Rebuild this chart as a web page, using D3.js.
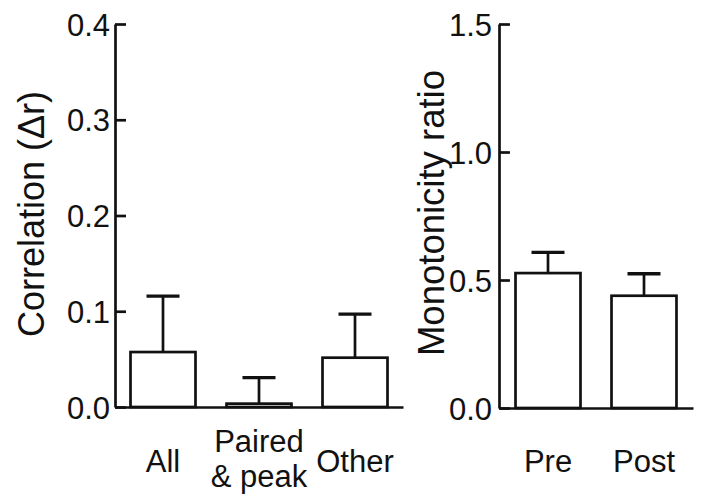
<!DOCTYPE html>
<html>
<head>
<meta charset="utf-8">
<script src="https://cdn.jsdelivr.net/npm/d3@7"></script>
<style>
  html, body { margin: 0; padding: 0; background: #fff; }
  svg { display: block; font-family: "Liberation Sans", Arial, sans-serif; }
</style>
</head>
<body>
<svg id="chart" width="703" height="495"></svg>
<script>
// Left panel data
const leftCategories = ["All", "Paired & peak", "Other"];
const leftLabelLines = [["All"], ["Paired", "& peak"], ["Other"]];
const leftMeans = [0.0574, 0.0035, 0.0515];
const leftErrors = [0.0585, 0.0271, 0.0456];
const leftTicks = [0.0, 0.1, 0.2, 0.3, 0.4];
const leftTitle = "Correlation (\u0394r)";

// Right panel data
const rightCategories = ["Pre", "Post"];
const rightMeans = [0.527, 0.4385];
const rightErrors = [0.081, 0.086];
const rightTicks = [0.0, 0.5, 1.0, 1.5];
const rightTitle = "Monotonicity ratio";

const svg = d3.select("#chart");
const ink = "#111";
const sw = 2.7;
const fs = 31;

function panel(cfg) {
  const g = svg.append("g");
  const x = d3.scaleBand().domain(cfg.categories).range(cfg.xRange)
    .paddingInner(0.323).paddingOuter(cfg.po);
  const y = d3.scaleLinear().domain(cfg.yDomain).range(cfg.yRange);

  // bars
  g.selectAll("rect.bar").data(cfg.categories).enter().append("rect")
    .attr("class", "bar")
    .attr("x", d => x(d))
    .attr("width", x.bandwidth())
    .attr("y", (d, i) => y(cfg.means[i]))
    .attr("height", (d, i) => y(0) - y(cfg.means[i]))
    .attr("fill", "#fff").attr("stroke", ink).attr("stroke-width", sw);

  // error bars (upper only)
  const capW = 33;
  cfg.categories.forEach((c, i) => {
    const cx = x(c) + x.bandwidth() / 2;
    const top = y(cfg.means[i] + cfg.errors[i]);
    g.append("line").attr("x1", cx).attr("x2", cx)
      .attr("y1", y(cfg.means[i])).attr("y2", top)
      .attr("stroke", ink).attr("stroke-width", sw);
    g.append("line").attr("x1", cx - capW / 2).attr("x2", cx + capW / 2)
      .attr("y1", top).attr("y2", top)
      .attr("stroke", ink).attr("stroke-width", sw + 0.6);
  });

  // y axis
  const yAxis = d3.axisLeft(y).tickValues(cfg.ticks).tickFormat(d3.format(".1f"))
    .tickSize(-11).tickSizeOuter(0).tickPadding(cfg.tickPad);
  const ya = g.append("g").attr("transform", `translate(${cfg.xRange[0]},0)`).call(yAxis);
  ya.selectAll("path, line").attr("stroke", ink).attr("stroke-width", sw);
  ya.selectAll("text").attr("font-size", fs).attr("fill", ink)
    .attr("font-family", "Liberation Sans, Arial, sans-serif").attr("dy", "0.36em");

  // x axis baseline
  const xAxis = d3.axisBottom(x).tickValues([]).tickSizeOuter(0);
  const xa = g.append("g").attr("transform", `translate(0,${y(0)})`).call(xAxis);
  xa.selectAll("path").attr("stroke", ink).attr("stroke-width", sw);

  // category labels
  cfg.categories.forEach((c, i) => {
    const lines = cfg.labelLines[i];
    const t = g.append("text").attr("text-anchor", "middle")
      .attr("font-size", fs).attr("fill", ink)
      .attr("x", x(c) + x.bandwidth() / 2);
    if (lines.length === 1) {
      t.attr("y", 472).text(lines[0]);
    } else {
      t.attr("y", 452);
      lines.forEach((ln, k) => {
        t.append("tspan").attr("x", x(c) + x.bandwidth() / 2)
          .attr("y", 452 + k * 35).text(ln);
      });
    }
  });

  // y title
  g.append("text")
    .attr("transform", `translate(${cfg.titleX},${cfg.titleY}) rotate(-90)`)
    .attr("text-anchor", "middle").attr("font-size", cfg.titleSize).attr("fill", ink)
    .text(cfg.title);
}

panel({
  categories: leftCategories, labelLines: leftLabelLines,
  means: leftMeans, errors: leftErrors, ticks: leftTicks,
  xRange: [115, 403], po: 0.1615,
  yDomain: [0, 0.4], yRange: [407, 24],
  tickPad: 5, title: leftTitle, titleX: 44, titleY: 214, titleSize: 36
});

panel({
  categories: rightCategories, labelLines: rightCategories.map(d => [d]),
  means: rightMeans, errors: rightErrors, ticks: rightTicks,
  xRange: [499, 693], po: 0.172,
  yDomain: [0, 1.5], yRange: [408, 24],
  tickPad: 7, title: rightTitle, titleX: 444, titleY: 213, titleSize: 36.5
});
</script>
</body>
</html>
